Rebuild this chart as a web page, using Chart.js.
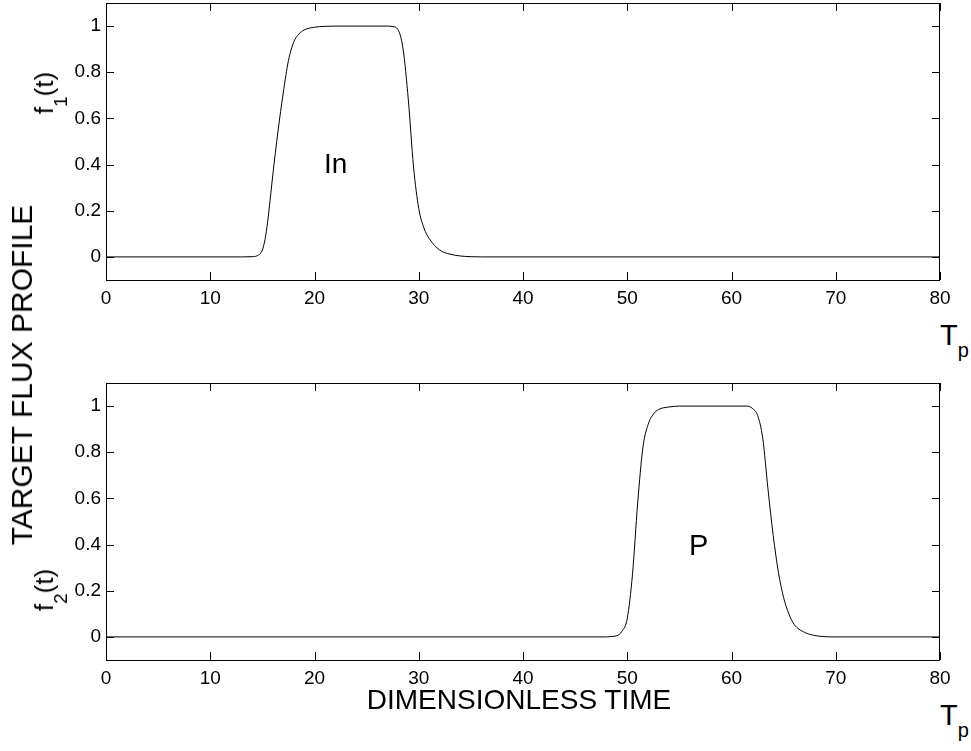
<!DOCTYPE html>
<html>
<head>
<meta charset="utf-8">
<script src="https://cdn.jsdelivr.net/npm/chart.js@4.4.1/dist/chart.umd.min.js"></script>
<style>
  html, body { margin: 0; padding: 0; background: #fff; }
  #page { position: relative; width: 971px; height: 751px; overflow: hidden; font-family: "Liberation Sans", Arial, sans-serif; color: #000; }
  .panel { position: absolute; left: 0; width: 960px; height: 327px; }
  .lbl { position: absolute; white-space: nowrap; line-height: 1; }
  .rot { transform: translate(-50%, -50%) rotate(-90deg); }
  .sub { position: relative; }
</style>
</head>
<body>
<div id="page">
  <div class="panel" style="top:-17px"><canvas id="topChart" width="960" height="327"></canvas></div>
  <div class="panel" style="top:363px"><canvas id="bottomChart" width="960" height="327"></canvas></div>

  <div class="lbl rot" style="left:22px; top:375px; font-size:30px;">TARGET FLUX PROFILE</div>
  <div class="lbl rot" style="left:44px; top:93px; font-size:26px;">f<span class="sub" style="font-size:19px; top:14px;">1</span>(t)</div>
  <div class="lbl rot" style="left:44px; top:590px; font-size:26px;">f<span class="sub" style="font-size:19px; top:14px;">2</span>(t)</div>

  <div class="lbl" style="left:324px; top:150px; font-size:28px;">In</div>
  <div class="lbl" style="left:689px; top:531px; font-size:29px;">P</div>

  <div class="lbl" style="left:940px; top:321px; font-size:29px;">T<span class="sub" style="font-size:20px; top:12px;">p</span></div>
  <div class="lbl" style="left:940px; top:701px; font-size:29px;">T<span class="sub" style="font-size:20px; top:12px;">p</span></div>

  <div class="lbl" style="left:519px; top:686px; font-size:28px; transform:translateX(-50%);">DIMENSIONLESS TIME</div>
</div>

<script>
// flux profile 1 (upper panel)
const tIn = [0, 13, 14, 14.5, 15, 15.25, 15.5, 15.75, 16, 16.5, 17, 17.5, 18, 18.5, 19, 20, 21, 22,
             27, 27.5, 28, 28.5, 29, 29.5, 30, 30.5, 31, 32, 33, 34, 35, 36, 80];
const fIn = [0, 0, 0.001, 0.005, 0.03, 0.075, 0.15, 0.25, 0.355, 0.545, 0.71, 0.85, 0.93, 0.965, 0.983, 0.995, 0.999, 1,
             1, 0.998, 0.985, 0.9, 0.68, 0.39, 0.21, 0.125, 0.08, 0.03, 0.012, 0.004, 0.001, 0, 0];

// flux profile 2 (lower panel)
const tP = [0, 48, 48.5, 49, 49.5, 50, 50.5, 51, 51.5, 52, 52.5, 53, 54, 55,
            61.5, 62, 62.5, 63, 63.5, 64, 64.5, 65, 65.5, 66, 67, 68, 69, 70, 80];
const fP = [0, 0, 0.002, 0.005, 0.025, 0.08, 0.27, 0.58, 0.82, 0.92, 0.965, 0.985, 0.996, 1,
            1, 0.99, 0.96, 0.86, 0.64, 0.44, 0.28, 0.17, 0.1, 0.055, 0.02, 0.006, 0.001, 0, 0];

const xMin = 0, xMax = 80, xStep = 10;
const yMin = -0.1, yMax = 1.1;
const yTicks = [0, 0.2, 0.4, 0.6, 0.8, 1];
const yTickLabels = ['0', '0.2', '0.4', '0.6', '0.8', '1'];

const FONT = { family: '"Liberation Sans", Arial, sans-serif', size: 19 };
const TICK_LEN = 8;

// box around the plot area with inward ticks on all four sides
const framePlugin = {
  id: 'frame',
  afterDraw(chart) {
    const { ctx, chartArea: a, scales } = chart;
    const x = scales.x, y = scales.y;
    ctx.save();
    ctx.strokeStyle = '#000';
    ctx.lineWidth = 1;
    ctx.beginPath();
    x.ticks.forEach(t => {
      const px = Math.round(x.getPixelForValue(t.value)) + 0.5;
      ctx.moveTo(px, a.bottom); ctx.lineTo(px, a.bottom - TICK_LEN);
      ctx.moveTo(px, a.top); ctx.lineTo(px, a.top + TICK_LEN);
    });
    y.ticks.forEach(t => {
      const py = Math.round(y.getPixelForValue(t.value)) + 0.5;
      ctx.moveTo(a.left, py); ctx.lineTo(a.left + TICK_LEN, py);
      ctx.moveTo(a.right, py); ctx.lineTo(a.right - TICK_LEN, py);
    });
    ctx.stroke();
    ctx.strokeRect(Math.round(a.left) + 0.5, Math.round(a.top) + 0.5,
                   Math.round(a.width) - 1, Math.round(a.height));
    ctx.restore();
  }
};

function makePanel(id, ts, fs) {
  const pts = ts.map((t, i) => ({ x: t, y: fs[i] }));
  return new Chart(document.getElementById(id), {
    type: 'line',
    data: {
      datasets: [{
        data: pts,
        borderColor: '#000',
        borderWidth: 1,
        pointRadius: 0,
        fill: false,
        cubicInterpolationMode: 'monotone'
      }]
    },
    options: {
      responsive: false,
      animation: false,
      events: [],
      layout: { padding: { top: 20, right: 20, left: 0, bottom: 0 } },
      plugins: { legend: { display: false }, tooltip: { enabled: false } },
      scales: {
        x: {
          type: 'linear',
          min: xMin,
          max: xMax,
          grid: { display: false, drawTicks: false },
          border: { display: false },
          ticks: { stepSize: xStep, color: '#000', font: FONT, padding: 7, maxRotation: 0 },
          afterFit: s => { s.height = 30; }
        },
        y: {
          type: 'linear',
          min: yMin,
          max: yMax,
          grid: { display: false, drawTicks: false },
          border: { display: false },
          ticks: {
            color: '#000',
            font: FONT,
            padding: 5,
            callback: (v) => {
              const i = yTicks.findIndex(t => Math.abs(t - v) < 1e-9);
              return i >= 0 ? yTickLabels[i] : '';
            }
          },
          afterBuildTicks: s => { s.ticks = yTicks.map(v => ({ value: v })); },
          afterFit: s => { s.width = 106; }
        }
      }
    },
    plugins: [framePlugin]
  });
}

makePanel('topChart', tIn, fIn);
makePanel('bottomChart', tP, fP);
</script>
</body>
</html>
